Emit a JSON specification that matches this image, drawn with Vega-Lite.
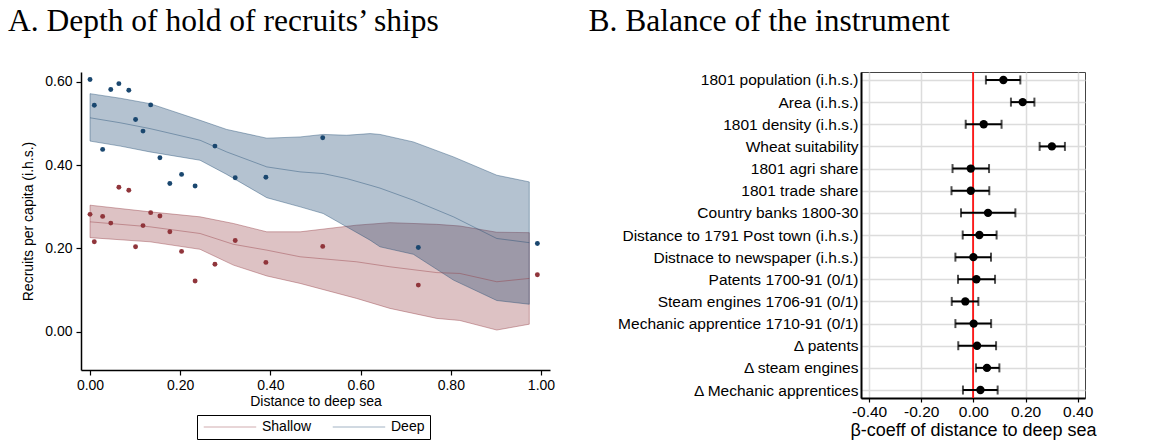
{
  "$schema": "https://vega.github.io/schema/vega-lite/v6.json",
  "background": "white",
  "padding": {"left": 8, "top": 5, "right": 0, "bottom": 0},
  "spacing": 32,
  "config": {
    "font": "Liberation Sans",
    "title": {"font": "Liberation Serif", "fontSize": 31.5, "fontWeight": "normal", "anchor": "start", "frame": "group", "color": "black", "baseline": "alphabetic"},
    "axis": {"labelFont": "Liberation Sans", "titleFont": "Liberation Sans", "labelColor": "black", "titleColor": "black", "titleFontWeight": "normal", "domainColor": "black", "tickColor": "black"}
  },
  "datasets": {
    "pts": [
      {"grp": "Deep", "x": 0.000, "y": 0.606},
      {"grp": "Deep", "x": 0.0095, "y": 0.544},
      {"grp": "Deep", "x": 0.028, "y": 0.438},
      {"grp": "Deep", "x": 0.046, "y": 0.582},
      {"grp": "Deep", "x": 0.064, "y": 0.596},
      {"grp": "Deep", "x": 0.086, "y": 0.580},
      {"grp": "Deep", "x": 0.101, "y": 0.510},
      {"grp": "Deep", "x": 0.1175, "y": 0.482},
      {"grp": "Deep", "x": 0.1345, "y": 0.545},
      {"grp": "Deep", "x": 0.155, "y": 0.418},
      {"grp": "Deep", "x": 0.177, "y": 0.356},
      {"grp": "Deep", "x": 0.203, "y": 0.378},
      {"grp": "Deep", "x": 0.233, "y": 0.350},
      {"grp": "Deep", "x": 0.277, "y": 0.446},
      {"grp": "Deep", "x": 0.322, "y": 0.370},
      {"grp": "Deep", "x": 0.390, "y": 0.371},
      {"grp": "Deep", "x": 0.516, "y": 0.466},
      {"grp": "Deep", "x": 0.728, "y": 0.2025},
      {"grp": "Deep", "x": 0.992, "y": 0.212},
      {"grp": "Shallow", "x": 0.000, "y": 0.282},
      {"grp": "Shallow", "x": 0.0095, "y": 0.216},
      {"grp": "Shallow", "x": 0.028, "y": 0.277},
      {"grp": "Shallow", "x": 0.046, "y": 0.261},
      {"grp": "Shallow", "x": 0.064, "y": 0.347},
      {"grp": "Shallow", "x": 0.086, "y": 0.340},
      {"grp": "Shallow", "x": 0.101, "y": 0.204},
      {"grp": "Shallow", "x": 0.1175, "y": 0.255},
      {"grp": "Shallow", "x": 0.1345, "y": 0.286},
      {"grp": "Shallow", "x": 0.155, "y": 0.278},
      {"grp": "Shallow", "x": 0.177, "y": 0.240},
      {"grp": "Shallow", "x": 0.203, "y": 0.193},
      {"grp": "Shallow", "x": 0.233, "y": 0.122},
      {"grp": "Shallow", "x": 0.277, "y": 0.162},
      {"grp": "Shallow", "x": 0.322, "y": 0.219},
      {"grp": "Shallow", "x": 0.390, "y": 0.1665},
      {"grp": "Shallow", "x": 0.516, "y": 0.205},
      {"grp": "Shallow", "x": 0.728, "y": 0.112},
      {"grp": "Shallow", "x": 0.992, "y": 0.137}
    ],
    "bands": [
      {"grp": "Deep", "x": 0.000, "lo": 0.458, "mid": 0.514, "hi": 0.572},
      {"grp": "Deep", "x": 0.067, "lo": 0.446, "mid": 0.502, "hi": 0.561},
      {"grp": "Deep", "x": 0.133, "lo": 0.432, "mid": 0.488, "hi": 0.548},
      {"grp": "Deep", "x": 0.244, "lo": 0.412, "mid": 0.460, "hi": 0.508},
      {"grp": "Deep", "x": 0.303, "lo": 0.378, "mid": 0.432, "hi": 0.486},
      {"grp": "Deep", "x": 0.392, "lo": 0.322, "mid": 0.396, "hi": 0.465},
      {"grp": "Deep", "x": 0.466, "lo": 0.300, "mid": 0.384, "hi": 0.468},
      {"grp": "Deep", "x": 0.517, "lo": 0.284, "mid": 0.380, "hi": 0.474},
      {"grp": "Deep", "x": 0.569, "lo": 0.252, "mid": 0.368, "hi": 0.472},
      {"grp": "Deep", "x": 0.621, "lo": 0.220, "mid": 0.352, "hi": 0.476},
      {"grp": "Deep", "x": 0.643, "lo": 0.204, "mid": 0.345, "hi": 0.474},
      {"grp": "Deep", "x": 0.717, "lo": 0.186, "mid": 0.316, "hi": 0.456},
      {"grp": "Deep", "x": 0.806, "lo": 0.124, "mid": 0.276, "hi": 0.420},
      {"grp": "Deep", "x": 0.902, "lo": 0.075, "mid": 0.224, "hi": 0.376},
      {"grp": "Deep", "x": 0.974, "lo": 0.066, "mid": 0.214, "hi": 0.360},
      {"grp": "Shallow", "x": 0.000, "lo": 0.226, "mid": 0.264, "hi": 0.304},
      {"grp": "Shallow", "x": 0.133, "lo": 0.216, "mid": 0.252, "hi": 0.288},
      {"grp": "Shallow", "x": 0.244, "lo": 0.198, "mid": 0.236, "hi": 0.276},
      {"grp": "Shallow", "x": 0.318, "lo": 0.160, "mid": 0.210, "hi": 0.260},
      {"grp": "Shallow", "x": 0.392, "lo": 0.134, "mid": 0.196, "hi": 0.240},
      {"grp": "Shallow", "x": 0.466, "lo": 0.116, "mid": 0.180, "hi": 0.240},
      {"grp": "Shallow", "x": 0.591, "lo": 0.080, "mid": 0.168, "hi": 0.256},
      {"grp": "Shallow", "x": 0.665, "lo": 0.056, "mid": 0.156, "hi": 0.262},
      {"grp": "Shallow", "x": 0.769, "lo": 0.032, "mid": 0.142, "hi": 0.258},
      {"grp": "Shallow", "x": 0.820, "lo": 0.027, "mid": 0.140, "hi": 0.254},
      {"grp": "Shallow", "x": 0.902, "lo": 0.004, "mid": 0.120, "hi": 0.239},
      {"grp": "Shallow", "x": 0.974, "lo": 0.018, "mid": 0.128, "hi": 0.238}
    ],
    "coef": [
      {"label": "1801 population (i.h.s.)", "est": 0.115, "lo": 0.048, "hi": 0.180},
      {"label": "Area (i.h.s.)", "est": 0.189, "lo": 0.144, "hi": 0.234},
      {"label": "1801 density (i.h.s.)", "est": 0.0395, "lo": -0.0295, "hi": 0.108},
      {"label": "Wheat suitability", "est": 0.301, "lo": 0.254, "hi": 0.351},
      {"label": "1801 agri share", "est": -0.010, "lo": -0.080, "hi": 0.060},
      {"label": "1801 trade share", "est": -0.010, "lo": -0.084, "hi": 0.061},
      {"label": "Country banks 1800-30", "est": 0.056, "lo": -0.0475, "hi": 0.161},
      {"label": "Distance to 1791 Post town (i.h.s.)", "est": 0.023, "lo": -0.041, "hi": 0.089},
      {"label": "Distnace to newspaper (i.h.s.)", "est": 0.000, "lo": -0.069, "hi": 0.0675},
      {"label": "Patents 1700-91 (0/1)", "est": 0.0115, "lo": -0.059, "hi": 0.083},
      {"label": "Steam engines 1706-91 (0/1)", "est": -0.031, "lo": -0.083, "hi": 0.019},
      {"label": "Mechanic apprentice 1710-91 (0/1)", "est": 0.001, "lo": -0.069, "hi": 0.068},
      {"label": "Δ patents", "est": 0.014, "lo": -0.058, "hi": 0.087},
      {"label": "Δ steam engines", "est": 0.052, "lo": 0.010, "hi": 0.0996},
      {"label": "Δ Mechanic apprentices", "est": 0.027, "lo": -0.040, "hi": 0.093}
    ]
  },
  "hconcat": [
    {
      "width": 469,
      "height": 298,
      "title": {"text": "A. Depth of hold of recruits’ ships", "dx": -73, "offset": 35},
      "view": {"stroke": null},
      "encoding": {
        "x": {"field": "x", "type": "quantitative",
              "scale": {"domain": [-0.02, 1.02], "nice": false, "zero": false},
              "axis": {"values": [0, 0.2, 0.4, 0.6, 0.8, 1], "format": ".2f", "title": "Distance to deep sea", "labelFontSize": 14, "titleFontSize": 14, "tickSize": 5, "labelPadding": 3, "titlePadding": 2, "grid": false, "domainWidth": 1.5, "tickWidth": 1.2}}
      },
      "layer": [
        {
          "data": {"name": "bands"},
          "transform": [{"filter": "datum.grp === 'Shallow'"}],
          "mark": {"type": "area", "fill": "#90353b", "fillOpacity": 0.3, "stroke": "#90353b", "strokeOpacity": 0.4, "strokeWidth": 1},
          "encoding": {
            "y": {"field": "lo", "type": "quantitative", "scale": {"domain": [-0.092, 0.624], "nice": false, "zero": false},
                  "axis": {"values": [0, 0.2, 0.4, 0.6], "format": ".2f", "title": "Recruits per capita (i.h.s.)", "titleFontSize": 14, "labelFontSize": 14, "tickSize": 5, "labelPadding": 4, "titlePadding": 9, "grid": false, "domainWidth": 1.5, "tickWidth": 1.2}},
            "y2": {"field": "hi"}
          }
        },
        {
          "data": {"name": "bands"},
          "transform": [{"filter": "datum.grp === 'Deep'"}],
          "mark": {"type": "area", "fill": "#1a476f", "fillOpacity": 0.33, "stroke": "#1a476f", "strokeOpacity": 0.4, "strokeWidth": 1},
          "encoding": {
            "y": {"field": "lo", "type": "quantitative", "scale": {"domain": [-0.092, 0.624], "nice": false, "zero": false},
                  "axis": {"values": [0, 0.2, 0.4, 0.6], "format": ".2f", "title": "Recruits per capita (i.h.s.)", "titleFontSize": 14, "labelFontSize": 14, "tickSize": 5, "labelPadding": 4, "titlePadding": 9, "grid": false, "domainWidth": 1.5, "tickWidth": 1.2}},
            "y2": {"field": "hi"}
          }
        },
        {
          "data": {"name": "bands"},
          "mark": {"type": "line", "strokeWidth": 1, "opacity": 0.4},
          "encoding": {
            "y": {"field": "mid", "type": "quantitative", "scale": {"domain": [-0.092, 0.624], "nice": false, "zero": false},
                  "axis": {"values": [0, 0.2, 0.4, 0.6], "format": ".2f", "title": "Recruits per capita (i.h.s.)", "titleFontSize": 14, "labelFontSize": 14, "tickSize": 5, "labelPadding": 4, "titlePadding": 9, "grid": false, "domainWidth": 1.5, "tickWidth": 1.2}},
            "stroke": {"field": "grp", "type": "nominal",
                       "scale": {"domain": ["Shallow", "Deep"], "range": ["#90353b", "#1a476f"]},
                       "legend": {"orient": "none", "legendX": 116, "legendY": 343, "direction": "horizontal", "title": null,
                                  "symbolType": "M-1,0H9", "symbolSize": 110, "symbolStrokeWidth": 1, "symbolOpacity": 0.4,
                                  "labelFontSize": 14, "labelFont": "Liberation Sans", "labelColor": "black", "labelOffset": 46,
                                  "columnPadding": 18, "strokeColor": "black", "padding": 5}}
          }
        },
        {
          "data": {"name": "pts"},
          "mark": {"type": "circle", "size": 24, "opacity": 1},
          "encoding": {
            "y": {"field": "y", "type": "quantitative", "scale": {"domain": [-0.092, 0.624], "nice": false, "zero": false},
                  "axis": {"values": [0, 0.2, 0.4, 0.6], "format": ".2f", "title": "Recruits per capita (i.h.s.)", "titleFontSize": 14, "labelFontSize": 14, "tickSize": 5, "labelPadding": 4, "titlePadding": 9, "grid": false, "domainWidth": 1.5, "tickWidth": 1.2}},
            "color": {"field": "grp", "type": "nominal", "scale": {"domain": ["Shallow", "Deep"], "range": ["#90353b", "#1a476f"]}, "legend": null}
          }
        }
      ]
    },
    {
      "width": 224,
      "height": 326,
      "title": {"text": "B. Balance of the instrument", "dx": -272.6, "offset": 34},
      "view": {"stroke": "#444444", "strokeWidth": 1},
      "data": {"name": "coef"},
      "layer": [
        {
          "mark": {"type": "rule", "color": "#ff1a1a", "strokeWidth": 1},
          "encoding": {
            "x": {"datum": 0, "type": "quantitative",
                  "scale": {"domain": [-0.431, 0.428], "nice": false, "zero": false},
                  "axis": {"values": [-0.4, -0.2, 0, 0.2, 0.4], "labelExpr": "replace(format(datum.value, '.2f'), '−', '-')", "title": "β-coeff of distance to deep sea", "labelFontSize": 15.5, "titleFontSize": 18, "tickSize": 4, "labelPadding": 2, "titlePadding": 2, "grid": true, "gridColor": "#dcdcdc", "gridWidth": 1.5, "domainWidth": 2, "tickWidth": 1.2}}
          }
        },
        {
          "mark": {"type": "rule", "color": "black", "strokeWidth": 2},
          "encoding": {
            "y": {"field": "label", "type": "nominal", "sort": null, "scale": {"type": "point", "padding": 0.36},
                  "axis": {"title": null, "labelFontSize": 15.5, "labelPadding": 3, "ticks": false, "grid": true, "gridColor": "#dcdcdc", "gridWidth": 1.5, "domainWidth": 2, "labelLimit": 400}},
            "x": {"field": "lo", "type": "quantitative",
                  "scale": {"domain": [-0.431, 0.428], "nice": false, "zero": false},
                  "axis": {"values": [-0.4, -0.2, 0, 0.2, 0.4], "labelExpr": "replace(format(datum.value, '.2f'), '−', '-')", "title": "β-coeff of distance to deep sea", "labelFontSize": 15.5, "titleFontSize": 18, "tickSize": 4, "labelPadding": 2, "titlePadding": 2, "grid": true, "gridColor": "#dcdcdc", "gridWidth": 1.5, "domainWidth": 2, "tickWidth": 1.2}},
            "x2": {"field": "hi"}
          }
        },
        {
          "mark": {"type": "tick", "color": "black", "thickness": 2, "size": 9},
          "encoding": {
            "y": {"field": "label", "type": "nominal", "sort": null},
            "x": {"field": "lo", "type": "quantitative"}
          }
        },
        {
          "mark": {"type": "tick", "color": "black", "thickness": 2, "size": 9},
          "encoding": {
            "y": {"field": "label", "type": "nominal", "sort": null},
            "x": {"field": "hi", "type": "quantitative"}
          }
        },
        {
          "mark": {"type": "circle", "color": "black", "size": 70, "opacity": 1},
          "encoding": {
            "y": {"field": "label", "type": "nominal", "sort": null},
            "x": {"field": "est", "type": "quantitative"}
          }
        }
      ]
    }
  ]
}
